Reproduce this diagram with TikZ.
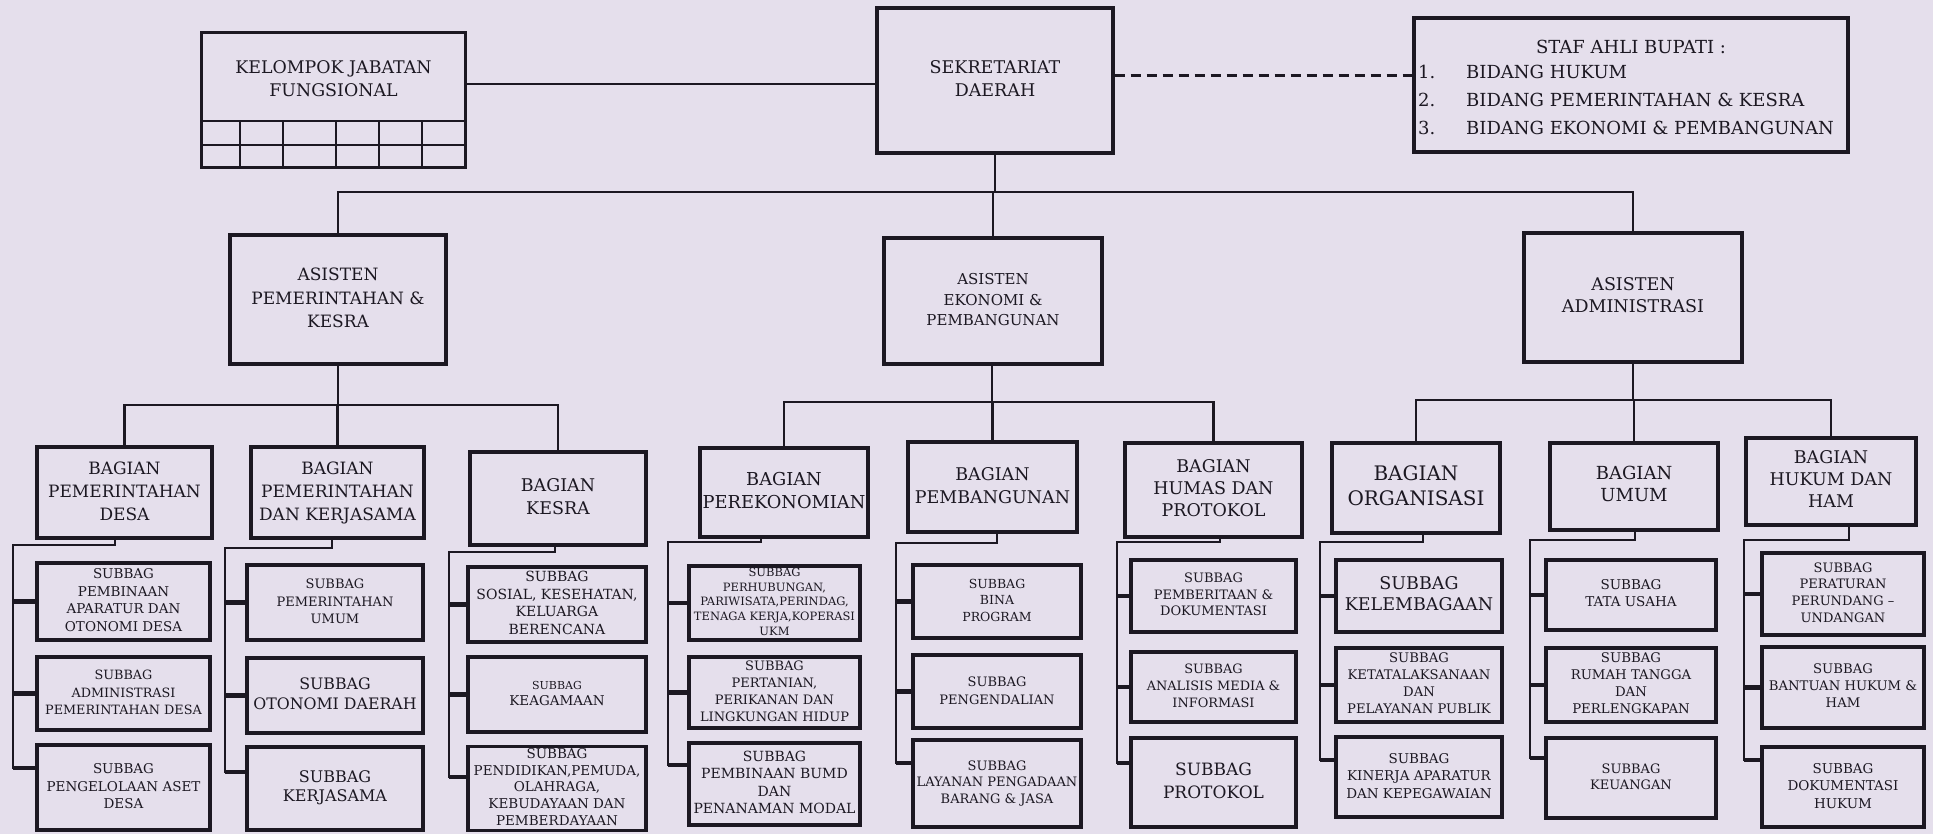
\documentclass[tikz,border=0pt]{standalone}
\usepackage{fontspec}
\setmainfont{DejaVu Serif}
\definecolor{ink}{RGB}{28,24,34}
\definecolor{paper}{RGB}{229,223,236}
\newcommand{\fsz}[2]{\fontsize{#1}{#2}\selectfont}
\tikzset{
  box/.style={draw=ink, line width=3.2pt, inner sep=0pt, align=center, text=ink},
  txt/.style={inner sep=0pt, text=ink, align=center},
  conn/.style={draw=ink, line width=2.4pt, line cap=rect, line join=miter},
  stub/.style={draw=ink, line width=4.5pt},
  gridln/.style={draw=ink, line width=2.6pt},
  dashline/.style={draw=ink, line width=2.8pt, dash pattern=on 10pt off 6pt}
}
\newcommand{\bx}[7]{\node[box, minimum width=#4pt, minimum height=#5pt, font=#6] (#1) at (#2,#3) {\makebox[#4pt][c]{\begin{tabular}{@{}c@{}}#7\end{tabular}}};}
\newcommand{\grp}[8]{%
  \coordinate (#1t) at (#2,#3); \coordinate (#1l) at (#4,#3);
  \coordinate (#7s) at ([yshift=#8pt]#7.west);
  \draw[conn] (#1.south -| #1t) -- (#1t) -- (#1l) -- (#1l |- #7s);
  \draw[stub] (#1l |- #5.west) -- (#5.west);
  \draw[stub] (#1l |- #6.west) -- (#6.west);
  \draw[stub] (#1l |- #7s) -- (#7s);
}
\begin{document}
\begin{tikzpicture}[x=1pt,y=-1pt]
\useasboundingbox (0,0) rectangle (1933,834);
\fill[paper] (0,0) rectangle (1933,834);

% top row
\node[box, minimum width=264pt, minimum height=135pt] (kjf) at (333.5,100) {};
\node[txt, font=\fsz{17.4}{23}] (kjft) at (333.5,79) {KELOMPOK JABATAN\\FUNGSIONAL};
\draw[gridln] (201,121) -- (466,121);
\draw[gridln] (201,145) -- (466,145);
\foreach \gx in {240,283,336,379,422} \draw[gridln] (\gx,121) -- (\gx,168);

\bx{sekda}{995}{80.5}{236}{145}{\fsz{17.5}{23}}{SEKRETARIAT\\DAERAH}

\node[box, minimum width=434pt, minimum height=134pt] (staff) at (1631,85) {};
\node[txt, font=\fsz{18}{22}] (sth) at (1631,47) {STAF AHLI BUPATI :};
\node[txt, anchor=west, font=\fsz{18}{22}] (st1) at (1418,72) {\makebox[48pt][l]{1.}BIDANG HUKUM};
\node[txt, anchor=west, font=\fsz{18}{22}] (st2) at (1418,100) {\makebox[48pt][l]{2.}BIDANG PEMERINTAHAN \& KESRA};
\node[txt, anchor=west, font=\fsz{18}{22}] (st3) at (1418,128) {\makebox[48pt][l]{3.}BIDANG EKONOMI \& PEMBANGUNAN};

% asisten row
\bx{asp}{338}{299.5}{216}{129}{\fsz{17}{23.5}}{ASISTEN\\PEMERINTAHAN \&\\KESRA}
\bx{ase}{993}{301}{218}{126}{\fsz{15}{20.5}}{ASISTEN\\EKONOMI \&\\PEMBANGUNAN}
\bx{asa}{1633}{297.5}{218}{129}{\fsz{17.5}{22}}{ASISTEN\\ADMINISTRASI}

% bagian row
\bx{bpd}{124.5}{492.5}{175}{91}{\fsz{17}{23}}{BAGIAN\\PEMERINTAHAN\\DESA}
\bx{bpk}{337.5}{492.5}{173}{91}{\fsz{17}{23}}{BAGIAN\\PEMERINTAHAN\\DAN KERJASAMA}
\bx{bks}{558}{498.5}{176}{93}{\fsz{17.5}{23}}{BAGIAN\\KESRA}
\bx{bpr}{784}{492.5}{168}{89}{\fsz{17.8}{23}}{BAGIAN\\PEREKONOMIAN}
\bx{bpb}{992.5}{487}{169}{90}{\fsz{17.5}{23}}{BAGIAN\\PEMBANGUNAN}
\bx{bhm}{1213.5}{490}{177}{94}{\fsz{17.5}{22}}{BAGIAN\\HUMAS DAN\\PROTOKOL}
\bx{bor}{1416}{488}{168}{90}{\fsz{20}{25}}{BAGIAN\\ORGANISASI}
\bx{bum}{1634}{486.5}{168}{87}{\fsz{18}{22}}{BAGIAN\\UMUM}
\bx{bhk}{1831}{481.5}{170}{87}{\fsz{17.5}{22}}{BAGIAN\\HUKUM DAN\\HAM}

% subbag boxes
\bx{s11}{123.5}{601.5}{173}{77}{\fsz{13.5}{17.5}}{SUBBAG\\PEMBINAAN\\APARATUR DAN\\OTONOMI DESA}
\bx{s12}{123.5}{693.5}{173}{73}{\fsz{12.8}{17.5}}{SUBBAG\\ADMINISTRASI\\PEMERINTAHAN DESA}
\bx{s13}{123.5}{787.5}{173}{85}{\fsz{13.5}{17.5}}{SUBBAG\\PENGELOLAAN ASET\\DESA}
\bx{s21}{335}{602.5}{176}{75}{\fsz{13}{17.5}}{SUBBAG\\PEMERINTAHAN\\UMUM}
\bx{s22}{335}{695.5}{176}{75}{\fsz{15.8}{20}}{SUBBAG\\OTONOMI DAERAH}
\bx{s23}{335}{788.5}{176}{83}{\fsz{16}{19}}{SUBBAG\\KERJASAMA}
\bx{s31}{557}{604.5}{178}{75}{\fsz{14}{17.5}}{SUBBAG\\SOSIAL, KESEHATAN,\\KELUARGA\\BERENCANA}
\bx{s32}{557}{694.5}{178}{75}{\fsz{13.5}{16}}{{\fsz{11}{13}SUBBAG}\\KEAGAMAAN}
\bx{s33}{557}{788.5}{178}{83}{\fsz{13.5}{16.7}}{SUBBAG\\PENDIDIKAN,PEMUDA,\\OLAHRAGA,\\KEBUDAYAAN DAN\\PEMBERDAYAAN}
\bx{s41}{774.5}{603}{171}{70}{\fsz{11.5}{14.8}}{SUBBAG\\PERHUBUNGAN,\\PARIWISATA,PERINDAG,\\TENAGA KERJA,KOPERASI\\UKM}
\bx{s42}{774.5}{692.5}{171}{71}{\fsz{13}{17}}{SUBBAG\\PERTANIAN,\\PERIKANAN DAN\\LINGKUNGAN HIDUP}
\bx{s43}{774.5}{784}{171}{82}{\fsz{14}{17.5}}{SUBBAG\\PEMBINAAN BUMD\\DAN\\PENANAMAN MODAL}
\bx{s51}{997}{601.5}{168}{73}{\fsz{12.5}{16.5}}{SUBBAG\\BINA\\PROGRAM}
\bx{s52}{997}{691.5}{168}{73}{\fsz{13}{18}}{SUBBAG\\PENGENDALIAN}
\bx{s53}{997}{783.5}{168}{87}{\fsz{13}{16.5}}{SUBBAG\\LAYANAN PENGADAAN\\BARANG \& JASA}
\bx{s61}{1213.5}{596}{165}{72}{\fsz{13}{16.5}}{SUBBAG\\PEMBERITAAN \&\\DOKUMENTASI}
\bx{s62}{1213.5}{687}{165}{70}{\fsz{12.9}{17}}{SUBBAG\\ANALISIS MEDIA \&\\INFORMASI}
\bx{s63}{1213.5}{782.5}{165}{89}{\fsz{17}{23}}{SUBBAG\\PROTOKOL}
\bx{s71}{1419}{596}{166}{72}{\fsz{17.5}{21}}{SUBBAG\\KELEMBAGAAN}
\bx{s72}{1419}{685}{166}{74}{\fsz{13.2}{17}}{SUBBAG\\KETATALAKSANAAN\\DAN\\PELAYANAN PUBLIK}
\bx{s73}{1419}{777}{166}{80}{\fsz{13.5}{17.5}}{SUBBAG\\KINERJA APARATUR\\DAN KEPEGAWAIAN}
\bx{s81}{1631}{595}{170}{70}{\fsz{13.5}{17}}{SUBBAG\\TATA USAHA}
\bx{s82}{1631}{685}{170}{74}{\fsz{13.3}{17}}{SUBBAG\\RUMAH TANGGA\\DAN\\PERLENGKAPAN}
\bx{s83}{1631}{778}{170}{80}{\fsz{13}{16.5}}{SUBBAG\\KEUANGAN}
\bx{s91}{1843}{594}{162}{82}{\fsz{13}{16.7}}{SUBBAG\\PERATURAN\\PERUNDANG --\\UNDANGAN}
\bx{s92}{1843}{687.5}{162}{81}{\fsz{13.2}{17}}{SUBBAG\\BANTUAN HUKUM \&\\HAM}
\bx{s93}{1843}{787}{162}{80}{\fsz{13.5}{17.5}}{SUBBAG\\DOKUMENTASI\\HUKUM}

% top connectors
\coordinate (top) at (994,192);
\coordinate (skl) at ([yshift=-3.5pt]sekda.west);
\coordinate (skr) at ([yshift=5pt]sekda.east);
\draw[conn] (kjf.east |- skl) -- (skl);
\draw[dashline] (skr) -- (skr -| staff.west);
\draw[conn] (sekda.south) -- (sekda.south |- top);
\draw[conn] (asp.north) |- (top) -| (asa.north);
\draw[conn] (ase.north) -- (ase.north |- top);

% level 2 buses
\coordinate (pb) at (338,405);
\draw[conn] (asp.south) -- (pb);
\draw[conn] (bpd.north) |- (pb) -| (bks.north);
\draw[conn] (bpk.north) -- (bpk.north |- pb);
\coordinate (eb) at (992,402);
\draw[conn] (ase.south -| eb) -- (eb);
\draw[conn] (bpr.north) |- (eb) -| (bhm.north);
\draw[conn] (bpb.north) -- (bpb.north |- eb);
\coordinate (ab) at (1633,400);
\draw[conn] (asa.south) -- (ab);
\draw[conn] (bor.north) |- (ab) -| (bhk.north);
\draw[conn] (bum.north) -- (bum.north |- ab);

% subbag groups
\grp{bpd}{115}{545}{13}{s11}{s12}{s13}{19.5}
\grp{bpk}{332}{548}{225}{s21}{s22}{s23}{16.5}
\grp{bks}{555}{552}{449}{s31}{s32}{s33}{11.5}
\grp{bpr}{761}{542}{668}{s41}{s42}{s43}{19}
\grp{bpb}{997}{543}{896}{s51}{s52}{s53}{20.5}
\grp{bhm}{1220}{542}{1117}{s61}{s62}{s63}{19.5}
\grp{bor}{1423}{542}{1320}{s71}{s72}{s73}{17}
\grp{bum}{1635}{540}{1530}{s81}{s82}{s83}{20}
\grp{bhk}{1849}{540}{1744}{s91}{s92}{s93}{27}
\end{tikzpicture}
\end{document}
